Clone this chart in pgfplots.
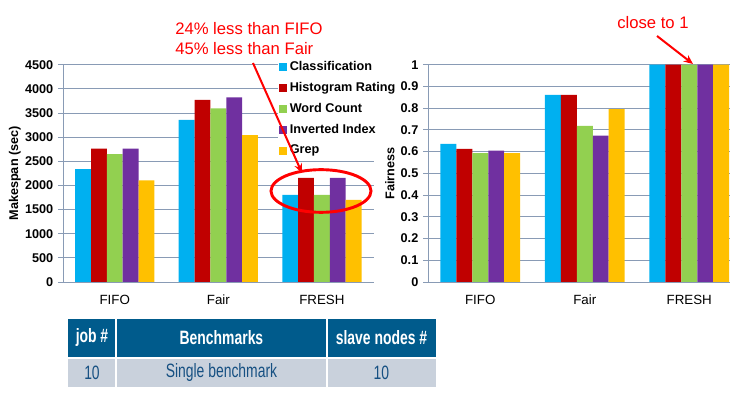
\documentclass[border=0pt]{standalone}
\usepackage{fontspec}
\setmainfont{Liberation Sans}
\usepackage{graphicx}
\usepackage{pgfplots}
\pgfplotsset{compat=1.18}
\usetikzlibrary{arrows.meta}
\definecolor{cA}{RGB}{0,176,240}
\definecolor{cB}{RGB}{192,0,0}
\definecolor{cC}{RGB}{146,208,80}
\definecolor{cD}{RGB}{112,48,160}
\definecolor{cE}{RGB}{255,192,0}
\definecolor{gridc}{RGB}{137,155,181}
\definecolor{hdr}{RGB}{0,91,140}
\definecolor{rowc}{RGB}{201,209,220}
\definecolor{tblue}{RGB}{22,80,130}
\definecolor{ared}{RGB}{255,0,0}
\pgfplotsset{
 common/.style={
  scale only axis, height=163pt, ybar=0pt, bar width=0.153,
  xmin=-0.5, xtick={0,1,2}, xticklabels={FIFO,Fair,FRESH},
  axis lines*=left, axis line style={gridc, line width=0.6pt},
  ymajorgrids, grid style={gridc, line width=0.6pt},
  tick align=outside, ytick style={gridc, line width=0.6pt}, major tick length=3.75pt,
  xtick style={draw=none},
  xticklabel style={font=\fontsize{10}{12}\selectfont, anchor=north, text height=7.5pt, text depth=2pt, yshift=-2pt},
  yticklabel style={font=\bfseries\fontsize{9.5}{11}\selectfont},
  ylabel style={font=\bfseries\fontsize{9.5}{11}\selectfont, anchor=center},
  /pgf/number format/assume math mode=true,
  /pgf/number format/1000 sep={},
  scaled ticks=false,
  every axis plot/.append style={draw=none},
  ymin=0,
  legend image code/.code={\fill[#1] (0pt,-3pt) rectangle (6pt,3pt);},
 }
}
\begin{document}
\begin{tikzpicture}
\useasboundingbox (0,0) rectangle (547.5pt,294pt);
\begin{axis}[common, at={(47.25pt,82.5pt)}, anchor=south west, width=233pt,
  xmax=2.5, ymax=4500, ytick={0,500,...,4500},
  ylabel={Makespan (sec)}, ylabel style={at={(axis description cs:-0.1546,0.5)}},
  legend style={at={(axis description cs:0.69,1.026)}, anchor=north west,
    fill=white, draw=none, inner sep=1pt,
    font=\bfseries\fontsize{9.5}{11}\selectfont,
    nodes={inner sep=0.6pt, text height=7pt, text depth=2pt},
    /tikz/every odd column/.append style={column sep=1.5pt},
    row sep=5.4pt},
  legend cell align=left]
\addplot[fill=cA] coordinates {(0,2336) (1,3356) (2,1806)};
\addplot[fill=cB] coordinates {(0,2763) (1,3770) (2,2157)};
\addplot[fill=cC] coordinates {(0,2646) (1,3597) (2,1806)};
\addplot[fill=cD] coordinates {(0,2763) (1,3825) (2,2157)};
\addplot[fill=cE] coordinates {(0,2102) (1,3039) (2,1702)};
\legend{Classification,Histogram Rating,Word Count,Inverted Index,Grep}
\end{axis}
\begin{axis}[common, at={(321pt,82.5pt)}, anchor=south west, width=226.5pt,
  xmax=2.39, ymax=1, ytick={0,0.1,0.2,0.3,0.4,0.5,0.6,0.7,0.8,0.9,1},
  ylabel={Fairness}, ylabel style={at={(axis description cs:-0.126,0.5)}}]
\addplot[fill=cA] coordinates {(0,0.635) (1,0.861) (2,1)};
\addplot[fill=cB] coordinates {(0,0.613) (1,0.861) (2,1)};
\addplot[fill=cC] coordinates {(0,0.593) (1,0.718) (2,1)};
\addplot[fill=cD] coordinates {(0,0.605) (1,0.674) (2,1)};
\addplot[fill=cE] coordinates {(0,0.593) (1,0.795) (2,1)};
\end{axis}
% annotations
\node[anchor=west, text=ared, font=\fontsize{12.5}{14}\selectfont, inner sep=0] at (131.25pt,272.25pt) {24\% less than FIFO};
\node[anchor=west, text=ared, font=\fontsize{12.5}{14}\selectfont, inner sep=0] at (131.25pt,257.25pt) {45\% less than Fair};
\draw[ared, line width=1.5pt, -{Stealth[length=7pt,width=6pt]}] (189.75pt,246.75pt) -- (226.5pt,164.25pt);
\draw[ared, line width=2.2pt] (240.75pt,150.75pt) ellipse [x radius=37.5pt, y radius=16pt];
\node[text=ared, font=\fontsize{12.5}{14}\selectfont, inner sep=0] at (489.75pt,277pt) {close to 1};
\draw[ared, line width=1.5pt, -{Stealth[length=7pt,width=6pt]}] (492.75pt,267pt) -- (519.75pt,246pt);
% table
\fill[hdr] (51pt,26.25pt) rectangle (327pt,54.75pt);
\fill[rowc] (51pt,3.75pt) rectangle (327pt,24.75pt);
\draw[white, line width=1.2pt] (87pt,3.75pt) -- (87pt,54.75pt);
\draw[white, line width=1.2pt] (245.25pt,3.75pt) -- (245.25pt,54.75pt);
\node[text=white, font=\bfseries\fontsize{14.5}{17}\selectfont] at (69pt,40.5pt) {\scalebox{0.72}[1]{job \#}};
\node[text=white, font=\bfseries\fontsize{14.5}{17}\selectfont] at (166.1pt,40.5pt) {\scalebox{0.72}[1]{Benchmarks}};
\node[text=white, font=\bfseries\fontsize{14.5}{17}\selectfont] at (286.1pt,40.5pt) {\scalebox{0.72}[1]{slave nodes \#}};
\node[text=tblue, font=\fontsize{14.5}{17}\selectfont] at (69pt,14.25pt) {\scalebox{0.72}[1]{10}};
\node[text=tblue, font=\fontsize{14.5}{17}\selectfont] at (166.1pt,14.25pt) {\scalebox{0.72}[1]{Single benchmark}};
\node[text=tblue, font=\fontsize{14.5}{17}\selectfont] at (286.1pt,14.25pt) {\scalebox{0.72}[1]{10}};
\end{tikzpicture}
\end{document}
